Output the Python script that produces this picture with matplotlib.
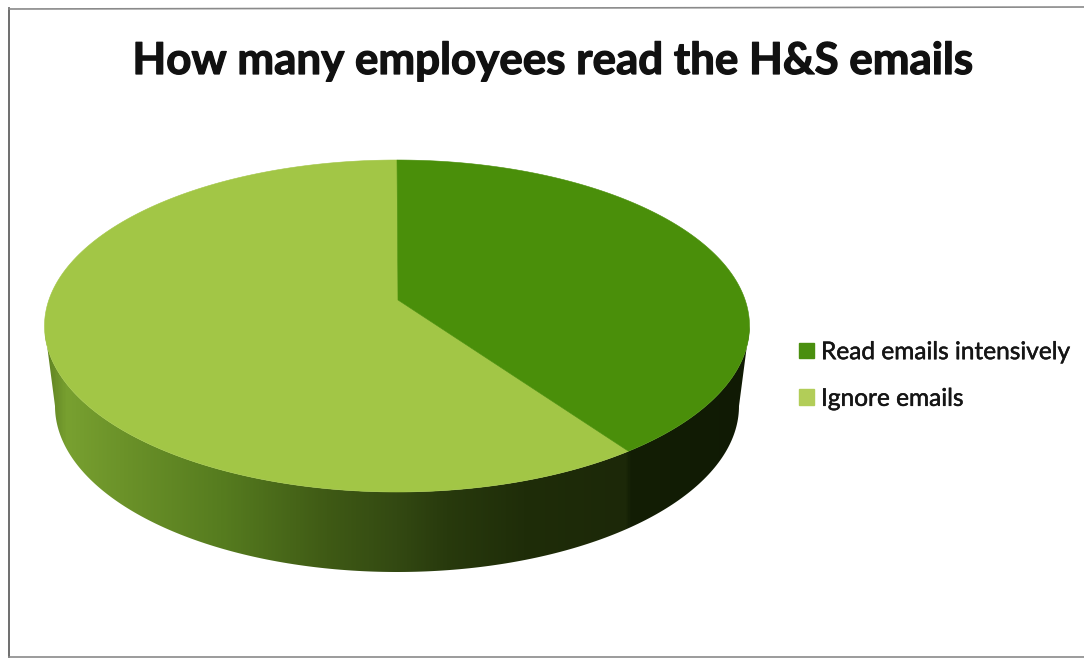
import numpy as np
import matplotlib
matplotlib.use("Agg")
import matplotlib.pyplot as plt
import matplotlib.patheffects as pe
from matplotlib.colors import LinearSegmentedColormap
from matplotlib.patches import PathPatch, Patch
from matplotlib.path import Path

labels = ["Read emails intensively", "Ignore emails"]
shares = [38.6, 61.4]
top_colors = ["#4a8f0a", "#a2c646"]
legend_colors = ["#4a8f0f", "#b2cd58"]
title = "How many employees read the H&S emails"

plt.rcParams["font.family"] = ["Lato", "DejaVu Sans"]

fig = plt.figure(figsize=(10.84, 6.59), dpi=100)
ax = fig.add_axes([0, 0, 1, 1])
ax.set_xlim(0, 1084)
ax.set_ylim(659, 0)
ax.axis("off")

# disc shape, in pixels
cx, cy = 397, 326
rx, ry = 352.5, 166
apex = (398, 300)
bottom_cy = 406
bottom_rx = 342


def rim(start, stop, radius_x=rx, center_y=cy, n=200):
    # angles run clockwise from 12 o'clock
    a = np.radians(np.linspace(start, stop, n))
    return cx + radius_x * np.sin(a), center_y - ry * np.cos(a)


# side wall: gradient image clipped to the band between the two rims
xt, yt = rim(90, 270)
xb, yb = rim(270, 90, bottom_rx, bottom_cy)
side = Path(np.column_stack([np.r_[xt, xb], np.r_[yt, yb]]))
side = Path(np.r_[side.vertices, side.vertices[:1]], closed=True)

stops = [
    (0.000, "#5f8222"),
    (0.030, "#78a030"),
    (0.110, "#6b9229"),
    (0.250, "#567c1f"),
    (0.400, "#3f5a15"),
    (0.500, "#334912"),
    (0.570, "#283a0d"),
    (0.680, "#1f2d09"),
    (0.825, "#1c2808"),
    (0.832, "#131e05"),
    (1.000, "#101a04"),
]
side_cmap = LinearSegmentedColormap.from_list("side", stops, N=512)
grad = np.linspace(0, 1, 705).reshape(1, -1)
img = ax.imshow(grad, cmap=side_cmap, extent=(45, 750, 590, 300), aspect="auto", zorder=1)
ax.set_xlim(0, 1084)
ax.set_ylim(659, 0)
clip = PathPatch(side, transform=ax.transData, fc="none", ec="none")
ax.add_patch(clip)
img.set_clip_path(clip)

# top face, one wedge per share
edges = np.cumsum([0] + shares) / sum(shares) * 360
for i in [1, 0]:
    x, y = rim(edges[i], edges[i + 1])
    ax.fill(np.r_[apex[0], x], np.r_[apex[1], y], color=top_colors[i], lw=0.4, zorder=2)

# page frame
ax.plot([9, 9], [8, 657], color="#555555", lw=1.2, zorder=3)
ax.plot([9, 1084], [9, 7], color="#8a8a8a", lw=1.2, zorder=3)
ax.plot([9, 1084], [657, 657], color="#8a8a8a", lw=1.2, zorder=3)

# thin stroke thickens the glyphs a little
ax.text(552.5, 61, title, ha="center", va="center", fontsize=31.6, fontweight="bold", color="#111111",
        path_effects=[pe.withStroke(linewidth=0.9, foreground="#111111")])

handles = [Patch(color=c) for c in legend_colors]
leg = ax.legend(handles, labels, loc="center left", bbox_to_anchor=(777 / 1084, 1 - 376 / 659),
                frameon=False, fontsize=17.6, handlelength=0.6, handleheight=0.6,
                handletextpad=0.3, labelspacing=1.05, labelcolor="#151515")
for t in leg.get_texts():
    t.set_path_effects([pe.withStroke(linewidth=0.35, foreground="#151515")])

fig.savefig("out.png", dpi=100)
